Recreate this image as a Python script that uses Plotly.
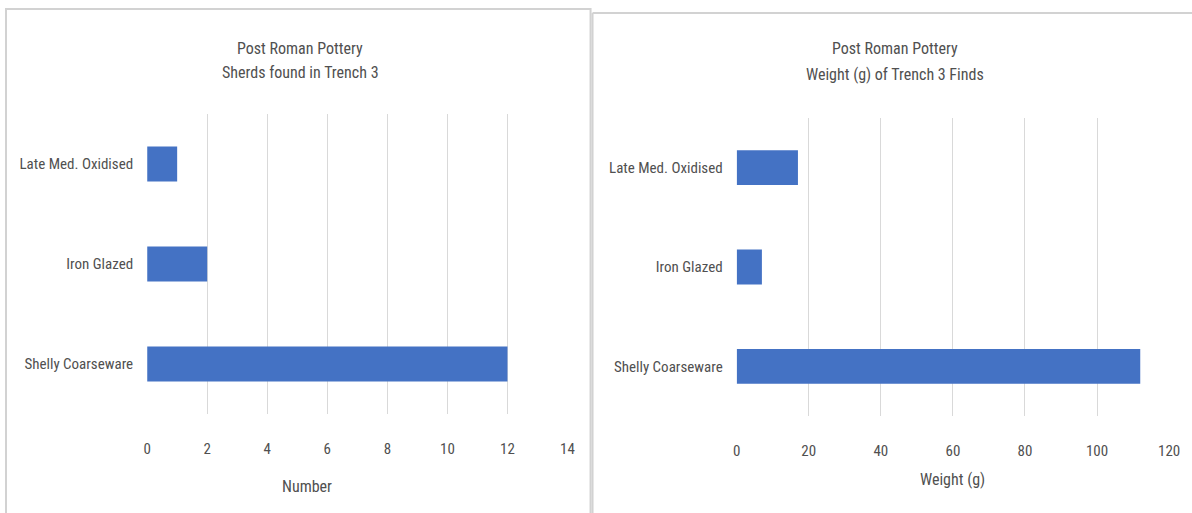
import plotly.graph_objects as go

# Post Roman pottery from Trench 3
categories = ["Late Med. Oxidised", "Iron Glazed", "Shelly Coarseware"]
sherd_counts = [1, 2, 12]
weights_g = [17, 7, 112]

count_ticks = [0, 2, 4, 6, 8, 10, 12, 14]
weight_ticks = [0, 20, 40, 60, 80, 100, 120]

W, H = 1192, 513
BAR = "#4472C4"
GRID = "#d9d9d9"
TXT = "#505050"
FONT = "Liberation Sans Narrow, Roboto Condensed, Arial Narrow, sans-serif"


def px(x):
    # horizontal page position -> paper fraction
    return (x - 4) / 0.9865 / W


def py(y):
    return 1 - y / H


fig = go.Figure()

fig.add_trace(go.Bar(
    x=sherd_counts, y=categories, orientation="h",
    marker=dict(color=BAR, line=dict(width=0)),
    xaxis="x", yaxis="y", showlegend=False,
))
fig.add_trace(go.Bar(
    x=weights_g, y=categories, orientation="h",
    marker=dict(color=BAR, line=dict(width=0)),
    xaxis="x2", yaxis="y2", showlegend=False,
))

axis_common = dict(
    showline=False, zeroline=False, ticks="",
    tickfont=dict(family=FONT, size=15, color=TXT),
)

fig.update_layout(
    width=W, height=H,
    margin=dict(l=0, r=0, t=0, b=0),
    paper_bgcolor="white", plot_bgcolor="white",
    bargap=0.65,
    font=dict(family=FONT, color=TXT),
    xaxis=dict(domain=[px(147), px(567)], range=[0, 14], tickvals=count_ticks,
               showgrid=True, gridcolor=GRID, gridwidth=1,
               ticklabelstandoff=24, anchor="y", **axis_common),
    yaxis=dict(domain=[py(414), py(114)], autorange="reversed",
               showgrid=False, ticklabelstandoff=13, anchor="x", **axis_common),
    xaxis2=dict(domain=[px(736), px(1168)], range=[0, 120], tickvals=weight_ticks,
                showgrid=True, gridcolor=GRID, gridwidth=1,
                ticklabelstandoff=24, anchor="y2", **axis_common),
    yaxis2=dict(domain=[py(416), py(118)], autorange="reversed",
                showgrid=False, ticklabelstandoff=13, anchor="x2", **axis_common),
)

# Panel frames: the left one is a closed box, the right one runs off the page
frame = dict(color="#d2d2d2", width=2)
fig.add_shape(type="rect", xref="paper", yref="paper",
              x0=px(6), x1=px(590), y0=py(520), y1=py(9), line=frame)
fig.add_shape(type="line", xref="paper", yref="paper",
              x0=px(592), x1=px(1230), y0=py(13), y1=py(13), line=frame)
fig.add_shape(type="line", xref="paper", yref="paper",
              x0=px(592), x1=px(592), y0=py(13), y1=py(520), line=frame)

# Chart titles and axis titles
texts = [
    ("Post Roman Pottery", 300, 48, 16),
    ("Sherds found in Trench 3", 300, 72, 16),
    ("Post Roman Pottery", 894, 48, 16),
    ("Weight (g) of Trench 3 Finds", 894, 74, 16),
    ("Number", 307, 486, 16),
    ("Weight (g)", 952, 479, 16),
]
for t, x, y, s in texts:
    fig.add_annotation(text=t, x=px(x), y=py(y), xref="paper", yref="paper",
                       showarrow=False, xanchor="center", yanchor="middle",
                       font=dict(family=FONT, size=s, color=TXT))

fig.write_html("out.html")
